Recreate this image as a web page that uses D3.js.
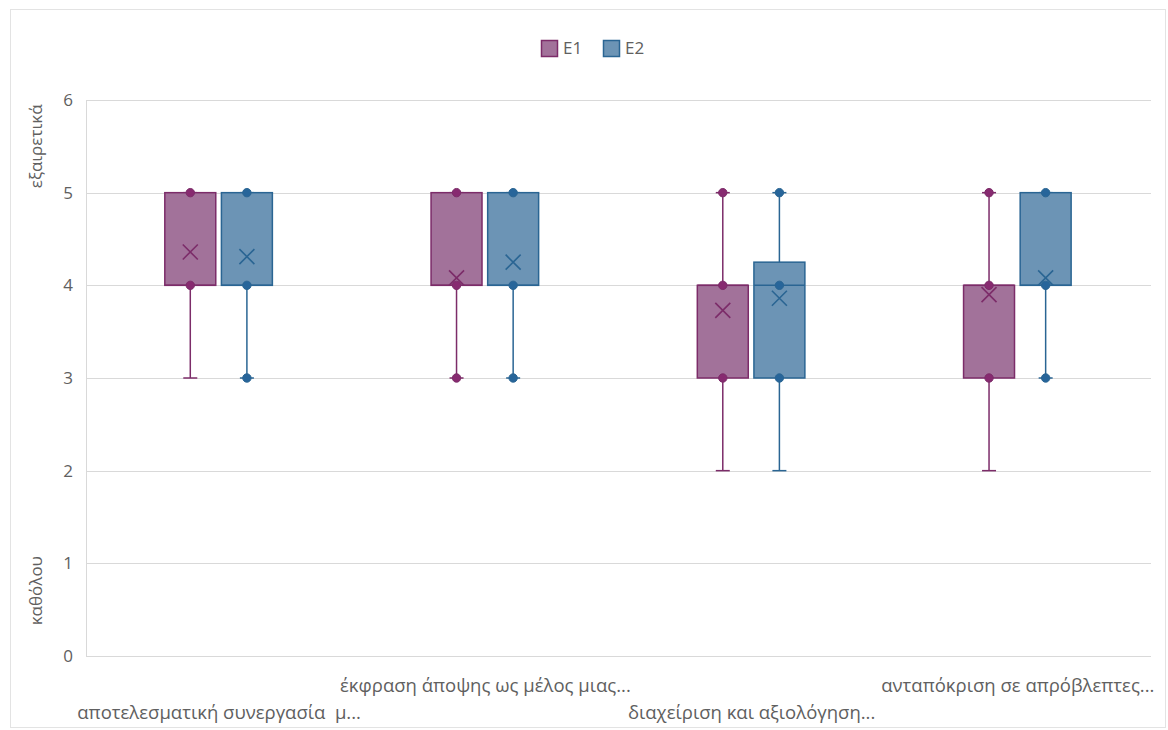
<!DOCTYPE html>
<html>
<head>
<meta charset="utf-8">
<script src="https://cdn.jsdelivr.net/npm/d3@7"></script>
<style>
  html, body { margin: 0; padding: 0; background: #ffffff; }
  svg { display: block; font-family: "Open Sans", "Noto Sans", sans-serif; }
</style>
</head>
<body>
<svg id="chart" width="1168" height="730"></svg>
<script>
// ---- data ----
const categories = [
  "αποτελεσματική συνεργασία  μ...",
  "έκφραση άποψης ως μέλος μιας...",
  "διαχείριση και αξιολόγηση...",
  "ανταπόκριση σε απρόβλεπτες..."
];
const seriesNames = ["E1", "E2"];
const yTicks = [0, 1, 2, 3, 4, 5, 6];
const yAxisTop = "εξαιρετικά";
const yAxisBottom = "καθόλου";

const e1Min    = [3, 3, 2, 2];
const e1Q1     = [4, 4, 3, 3];
const e1Median = [4, 4, 4, 4];
const e1Q3     = [5, 5, 4, 4];
const e1Max    = [5, 5, 5, 5];
const e1Mean   = [4.36, 4.08, 3.73, 3.90];
const e1Points = [[5, 4], [5, 4, 3], [5, 4, 3], [5, 4, 3]];

const e2Min    = [3, 3, 2, 3];
const e2Q1     = [4, 4, 3, 4];
const e2Median = [4, 4, 4, 4];
const e2Q3     = [5, 5, 4.25, 5];
const e2Max    = [5, 5, 5, 5];
const e2Mean   = [4.31, 4.25, 3.86, 4.08];
const e2Points = [[5, 4, 3], [5, 4, 3], [5, 4, 3], [5, 4, 3]];

// ---- build table ----
const table = [];
categories.forEach((c, i) => {
  table.push({cat: c, s: "E1", min: e1Min[i], q1: e1Q1[i], med: e1Median[i], q3: e1Q3[i], max: e1Max[i], mean: e1Mean[i], pts: e1Points[i]});
  table.push({cat: c, s: "E2", min: e2Min[i], q1: e2Q1[i], med: e2Median[i], q3: e2Q3[i], max: e2Max[i], mean: e2Mean[i], pts: e2Points[i]});
});

const colors = {
  E1: {fill: "#a2729a", stroke: "#7c2c69", dot: "#872a70"},
  E2: {fill: "#6c94b5", stroke: "#2a6593", dot: "#27659a"}
};
const textColor = "#606060";

const svg = d3.select("#chart");

// outer frame
svg.append("rect").attr("x", 10.5).attr("y", 9.5).attr("width", 1155).attr("height", 718)
  .attr("fill", "#fff").attr("stroke", "#e3e3e3").attr("stroke-width", 1);

const plot = {left: 86, right: 1151, top: 100, bottom: 656};

const x0 = d3.scaleBand().domain(categories).range([plot.left, plot.right]).padding(0);
const bw0 = x0.bandwidth();
const x1 = d3.scaleBand().domain(seriesNames).range([bw0 * 0.296, bw0 * 0.70]).paddingInner(0.1).paddingOuter(0);
const y = d3.scaleLinear().domain([0, 6]).range([plot.bottom, plot.top]);

// gridlines
svg.append("g").selectAll("line").data(yTicks).join("line")
  .attr("x1", plot.left).attr("x2", plot.right)
  .attr("y1", d => Math.round(y(d)) + 0.5).attr("y2", d => Math.round(y(d)) + 0.5)
  .attr("stroke", "#d9d9d9").attr("stroke-width", 1);
// left axis line
svg.append("line").attr("x1", plot.left + 0.5).attr("x2", plot.left + 0.5)
  .attr("y1", plot.top).attr("y2", plot.bottom + 0.5)
  .attr("stroke", "#d9d9d9");

// y axis labels
const yAxis = d3.axisLeft(y).tickValues(yTicks).tickSize(0).tickPadding(0).tickFormat(d3.format("d"));
const ya = svg.append("g").attr("transform", `translate(${plot.left - 13},0)`).call(yAxis);
ya.select(".domain").remove();
ya.selectAll("text").attr("fill", textColor).style("font-size", "17px")
  .style("font-family", "'Open Sans', sans-serif");

// y axis side text
svg.append("text").attr("transform", `translate(37,${(y(6) + y(5)) / 2 }) rotate(-90)`)
  .attr("text-anchor", "middle").attr("dominant-baseline", "middle")
  .attr("fill", textColor).style("font-size", "17px").text(yAxisTop);
svg.append("text").attr("transform", `translate(37,${(y(1) + y(0)) / 2 - 19}) rotate(-90)`)
  .attr("text-anchor", "middle").attr("dominant-baseline", "middle")
  .attr("fill", textColor).style("font-size", "17px").text(yAxisBottom);

// x labels (staggered)
svg.append("g").selectAll("text").data(categories).join("text")
  .attr("x", d => x0(d) + bw0 / 2)
  .attr("y", (d, i) => i % 2 === 0 ? 719 : 692)
  .attr("text-anchor", "middle")
  .attr("fill", textColor)
  .style("font-size", "18.5px")
  .style("white-space", "pre")
  .text(d => d);

// boxes
const g = svg.append("g");
const boxes = g.selectAll("g.box").data(table).join("g").attr("class", "box")
  .attr("transform", d => `translate(${x0(d.cat) + x1(d.s)},0)`);
const bw = x1.bandwidth();
const cx = bw / 2;

// whiskers
boxes.append("line").attr("x1", cx).attr("x2", cx)
  .attr("y1", d => y(d.q1)).attr("y2", d => y(d.min))
  .attr("stroke", d => colors[d.s].stroke).attr("stroke-width", 1.5);
boxes.append("line").attr("x1", cx).attr("x2", cx)
  .attr("y1", d => y(d.q3)).attr("y2", d => y(d.max))
  .attr("stroke", d => colors[d.s].stroke).attr("stroke-width", 1.5);
// caps
boxes.append("line").attr("x1", cx - 7).attr("x2", cx + 7)
  .attr("y1", d => y(d.min)).attr("y2", d => y(d.min))
  .attr("stroke", d => colors[d.s].stroke).attr("stroke-width", 1.5);
boxes.append("line").attr("x1", cx - 7).attr("x2", cx + 7)
  .attr("y1", d => y(d.max)).attr("y2", d => y(d.max))
  .attr("stroke", d => colors[d.s].stroke).attr("stroke-width", 1.5);

// box
boxes.append("rect").attr("x", 0).attr("width", bw)
  .attr("y", d => y(d.q3)).attr("height", d => y(d.q1) - y(d.q3))
  .attr("fill", d => colors[d.s].fill).attr("stroke", d => colors[d.s].stroke).attr("stroke-width", 1.5);
// median
boxes.append("line").attr("x1", 0).attr("x2", bw)
  .attr("y1", d => y(d.med)).attr("y2", d => y(d.med))
  .attr("stroke", d => colors[d.s].stroke).attr("stroke-width", 1.5);

// points
boxes.each(function(d) {
  d3.select(this).selectAll("circle").data(d.pts).join("circle")
    .attr("cx", cx).attr("cy", v => y(v)).attr("r", 4.2)
    .attr("fill", colors[d.s].dot).attr("stroke", colors[d.s].stroke).attr("stroke-width", 1);
});

// mean X
const xs = 7.5;
boxes.append("path")
  .attr("d", d => {
    const my = y(d.mean);
    return `M${cx - xs},${my - xs}L${cx + xs},${my + xs}M${cx - xs},${my + xs}L${cx + xs},${my - xs}`;
  })
  .attr("stroke", d => colors[d.s].stroke).attr("stroke-width", 1.6).attr("fill", "none");

// legend
const legend = svg.append("g").attr("transform", "translate(541,40)");
const li = legend.selectAll("g").data(seriesNames).join("g")
  .attr("transform", (d, i) => `translate(${i * 62},0)`);
li.append("rect").attr("x", 0.5).attr("y", 0.5).attr("width", 16).attr("height", 16)
  .attr("fill", d => colors[d].fill).attr("stroke", d => colors[d].stroke).attr("stroke-width", 1.5);
li.append("text").attr("x", 22).attr("y", 9.5).attr("dominant-baseline", "middle")
  .attr("fill", textColor).style("font-size", "17px").text(d => d);
</script>
</body>
</html>
